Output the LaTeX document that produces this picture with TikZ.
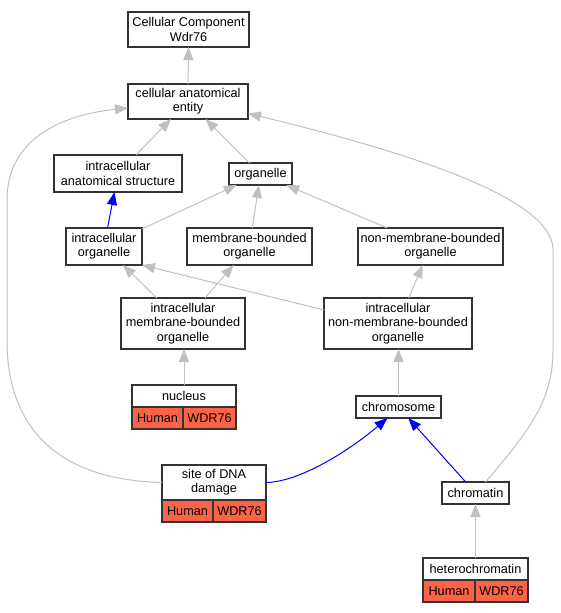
\documentclass[tikz,border=0pt]{standalone}
\usepackage{fontspec}
\setmainfont{Liberation Sans}
\usepackage{tikz}
\usetikzlibrary{arrows.meta}
\usetikzlibrary{positioning}

\definecolor{tomato}{RGB}{255,99,71}
\definecolor{edgegray}{RGB}{192,192,192}
\definecolor{boxline}{RGB}{51,51,51}

\tikzset{
	term/.style={draw=boxline, line width=1.2pt, fill=white, align=center, inner sep=0pt, outer sep=0pt, font=\fontsize{12.7}{14.3}\selectfont},
	cell/.style={term, fill=tomato, minimum height=22pt},
	isa/.style={draw=edgegray, line width=1pt, -{Triangle[length=13pt,width=10pt]}},
	partof/.style={draw=blue, line width=1pt, -{Triangle[length=13pt,width=10pt]}}
}

\begin{document}
\begin{tikzpicture}[x=1pt, y=-1pt]
	\useasboundingbox (0, 0) rectangle (560, 613);

	% terms
	\node[term, minimum width=121pt, minimum height=35pt] (cc) at (188.5, 29.5) {Cellular Component\\Wdr76};
	\node[term, minimum width=120pt, minimum height=35pt] (cae) at (188, 101.5) {cellular anatomical\\entity};
	\node[term, minimum width=128pt, minimum height=37pt] (ias) at (118, 173.5) {intracellular\\anatomical structure};
	\node[term, minimum width=63pt, minimum height=22pt] (org) at (260.5, 174) {organelle};
	\node[term, minimum width=76pt, minimum height=37pt] (io) at (104, 246.5) {intracellular\\organelle};
	\node[term, minimum width=125pt, minimum height=37pt] (mbo) at (249.5, 246.5) {membrane-bounded\\organelle};
	\node[term, minimum width=145pt, minimum height=37pt] (nmbo) at (430.5, 246.5) {non-membrane-bounded\\organelle};
	\node[term, minimum width=124pt, minimum height=51pt] (imbo) at (183, 323.5) {intracellular\\membrane-bounded\\organelle};
	\node[term, minimum width=148pt, minimum height=51pt] (inmbo) at (398, 323.5) {intracellular\\non-membrane-bounded\\organelle};
	\node[term, minimum width=85pt, minimum height=22pt] (chrom) at (398.5, 407) {chromosome};
	\node[term, minimum width=67pt, minimum height=22pt] (chromatin) at (475.5, 493) {chromatin};

	% annotated terms
	\node[term, minimum width=104pt, minimum height=22pt] (nucleus) at (184, 396) {nucleus};
	\node[cell, minimum width=51pt, anchor=north west] (nucH) at (nucleus.south west) {Human};
	\node[cell, minimum width=53pt, anchor=north west] (nucW) at (nucH.north east) {WDR76};

	\node[term, minimum width=104pt, minimum height=35pt] (site) at (214, 482.5) {site of DNA\\damage};
	\node[cell, minimum width=51pt, anchor=north west] (siteH) at (site.south west) {Human};
	\node[cell, minimum width=53pt, anchor=north west] (siteW) at (siteH.north east) {WDR76};

	\node[term, minimum width=105pt, minimum height=22pt] (hetero) at (475.5, 569) {heterochromatin};
	\node[cell, minimum width=52pt, anchor=north west] (hetH) at (hetero.south west) {Human};
	\node[cell, minimum width=53pt, anchor=north west] (hetW) at (hetH.north east) {WDR76};

	% is_a
	\draw[isa] (cae) -- (cc);
	\draw[isa] (ias) -- (cae);
	\draw[isa] (org) -- (cae);
	\draw[isa] (io) -- (org);
	\draw[isa] (mbo) -- (org);
	\draw[isa] (nmbo) -- (org);
	\draw[isa] (imbo) -- (io);
	\draw[isa] (imbo) -- (mbo);
	\draw[isa] ([yshift=-12pt]inmbo.north west) -- (io.south east);
	\draw[isa] (inmbo) -- (nmbo);
	\draw[isa] (nucleus.north) -- (nucleus.north |- imbo.south);
	\draw[isa] (chrom.north) -- (chrom.north |- inmbo.south);
	\draw[isa] (hetero.north) -- (hetero.north |- chromatin.south);
	\draw[isa] (site.west) .. controls (60, 480) and (7, 430) .. (7, 340)
		-- (7, 200) .. controls (7, 140) and (60, 115) .. ([yshift=-6.5pt]cae.west);
	\draw[isa] ([xshift=10pt]chromatin.north) .. controls (530, 430) and (553, 400) .. (553, 350)
		-- (553, 250) .. controls (553, 200) and (420, 155) .. ([yshift=-12pt]cae.east);

	% part_of
	\draw[partof] (io) -- (ias);
	\draw[partof] (chromatin) -- (chrom);
	\draw[partof] (site.east) .. controls (300, 482) and (350, 450) .. ([xshift=-11pt]chrom.south);
\end{tikzpicture}
\end{document}
